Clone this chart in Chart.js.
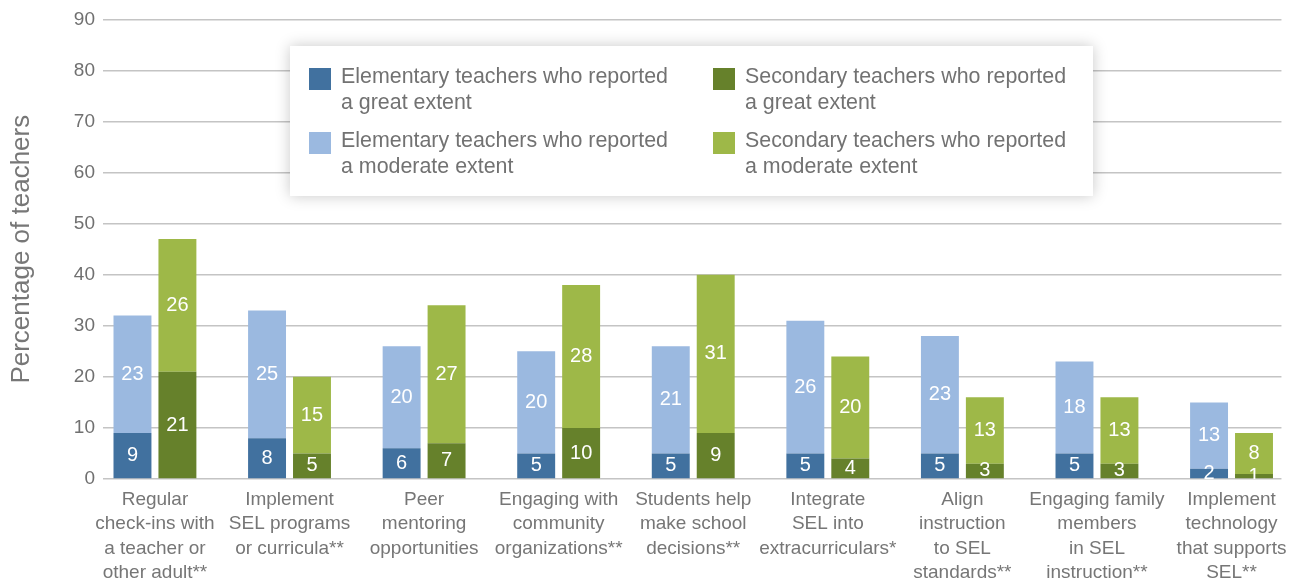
<!DOCTYPE html>
<html>
<head>
<meta charset="utf-8">
<script src="https://cdn.jsdelivr.net/npm/chart.js@4.4.1/dist/chart.umd.min.js"></script>
<style>
  html, body { margin: 0; padding: 0; background: #fff; }
  #wrap { position: relative; width: 1296px; height: 582px; }
  #leyenda {
    position: absolute; left: 290px; top: 46px; width: 803px; height: 150px;
    background: #fff; box-shadow: 0 0 14px rgba(0,0,0,0.22);
    font-family: "Liberation Sans", Arial, sans-serif; font-size: 21.4px; color: #727272;
  }
  .item { position: absolute; line-height: 26px; }
  .item span.cuadro { position: absolute; left: 0; top: 2px; width: 22px; height: 22px; }
  .item div { position: absolute; left: 32px; top: -3px; white-space: nowrap; }
</style>
</head>
<body>
<div id="wrap">
  <canvas id="grafico" width="1296" height="582"></canvas>
  <div id="leyenda"></div>
</div>
<script>
const categorias = [
  ["Regular", "check-ins with", "a teacher or", "other adult**"],
  ["Implement", "SEL programs", "or curricula**"],
  ["Peer", "mentoring", "opportunities"],
  ["Engaging with", "community", "organizations**"],
  ["Students help", "make school", "decisions**"],
  ["Integrate", "SEL into", "extracurriculars*"],
  ["Align", "instruction", "to SEL", "standards**"],
  ["Engaging family", "members", "in SEL", "instruction**"],
  ["Implement", "technology", "that supports", "SEL**"]
];
const elemGran = [9, 8, 6, 5, 5, 5, 5, 5, 2];
const elemModerada = [23, 25, 20, 20, 21, 26, 23, 18, 13];
const secGran = [21, 5, 7, 10, 9, 4, 3, 3, 1];
const secModerada = [26, 15, 27, 28, 31, 20, 13, 13, 8];
const ticksY = [0, 10, 20, 30, 40, 50, 60, 70, 80, 90];

const nombres = [
  ["Elementary teachers who reported", "a great extent"],
  ["Elementary teachers who reported", "a moderate extent"],
  ["Secondary teachers who reported", "a great extent"],
  ["Secondary teachers who reported", "a moderate extent"]
];
const colores = ['#41719f', '#9bb9e0', '#66812b', '#9eb848'];

const fuente = '"Liberation Sans", Arial, sans-serif';

function serie(valores) {
  return valores.map((v, i) => ({ x: i, y: v }));
}

// Etiquetas blancas dentro de cada segmento
const etiquetas = {
  id: 'etiquetas',
  afterDatasetsDraw(chart) {
    const ctx = chart.ctx;
    const area = chart.chartArea;
    ctx.save();
    ctx.beginPath();
    ctx.rect(area.left, area.top, area.right - area.left, area.bottom - area.top);
    ctx.clip();
    ctx.fillStyle = '#ffffff';
    ctx.font = '20px ' + fuente;
    ctx.textAlign = 'center';
    ctx.textBaseline = 'middle';
    chart.data.datasets.forEach((ds, d) => {
      chart.getDatasetMeta(d).data.forEach((bar, i) => {
        const y = (bar.y + bar.base) / 2;
        ctx.fillText(String(ds.data[i].y), bar.x, y);
      });
    });
    ctx.restore();
  }
};

const data = {
  datasets: [
    { label: nombres[0].join(' '), data: serie(elemGran), backgroundColor: colores[0], stack: 'elem' },
    { label: nombres[1].join(' '), data: serie(elemModerada), backgroundColor: colores[1], stack: 'elem' },
    { label: nombres[2].join(' '), data: serie(secGran), backgroundColor: colores[2], stack: 'sec' },
    { label: nombres[3].join(' '), data: serie(secModerada), backgroundColor: colores[3], stack: 'sec' }
  ]
};

const chart = new Chart(document.getElementById('grafico').getContext('2d'), {
  type: 'bar',
  data: data,
  plugins: [etiquetas],
  options: {
    responsive: false,
    animation: false,
    categoryPercentage: 0.668,
    barPercentage: 0.844,
    layout: { padding: { top: 19, right: 13, left: 0, bottom: 0 } },
    plugins: { legend: { display: false }, tooltip: { enabled: false } },
    scales: {
      x: {
        type: 'linear',
        min: -0.386,
        max: 8.371,
        stacked: true,
        offset: false,
        grid: { display: false, drawTicks: false },
        border: { display: false },
        afterBuildTicks: s => { s.ticks = categorias.map((_, i) => ({ value: i })); },
        afterFit: s => { s.height = 103; },
        ticks: {
          autoSkip: false,
          maxRotation: 0,
          padding: 9,
          color: '#767676',
          font: { family: fuente, size: 19, lineHeight: 1.27 },
          callback: v => categorias[v]
        }
      },
      y: {
        min: 0,
        max: 90,
        stacked: true,
        grid: { color: '#c4c4c4', lineWidth: 1.5, drawTicks: false },
        border: { display: false },
        afterBuildTicks: s => { s.ticks = ticksY.map(v => ({ value: v })); },
        afterFit: s => { s.width = 103; },
        ticks: {
          padding: 8,
          color: '#707070',
          font: { family: fuente, size: 19 }
        },
        title: {
          display: true,
          text: 'Percentage of teachers',
          color: '#777777',
          font: { family: fuente, size: 26 },
          padding: { top: 6, bottom: 0 }
        }
      }
    }
  }
});

// Leyenda en caja con sombra, 2 columnas
const leyenda = document.getElementById('leyenda');
const posiciones = [[19, 20], [19, 84], [423, 20], [423, 84]];
chart.data.datasets.forEach((ds, d) => {
  const item = document.createElement('div');
  item.className = 'item';
  item.style.left = posiciones[d][0] + 'px';
  item.style.top = posiciones[d][1] + 'px';
  item.innerHTML = '<span class="cuadro" style="background:' + ds.backgroundColor + '"></span>' +
    '<div>' + nombres[d].join('<br>') + '</div>';
  leyenda.appendChild(item);
});
</script>
</body>
</html>
